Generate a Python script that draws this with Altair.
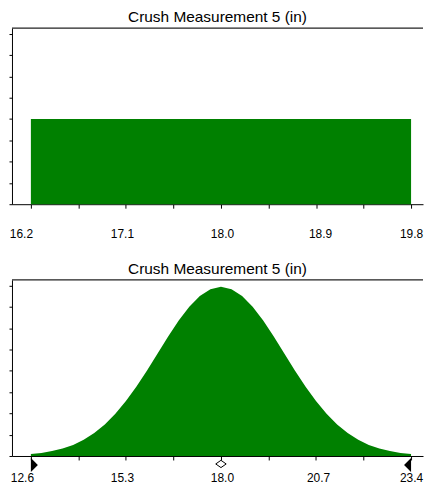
import altair as alt
import pandas as pd

TITLE = "Crush Measurement 5 (in)"
FONT = "Liberation Sans"
GREEN = "#008000"

# ---- top panel: uniform distribution ----
top_lo = [16.2]
top_hi = [19.8]
top_level = [4.0]
top_ticks = [16.2, 16.65, 17.1, 17.55, 18.0, 18.45, 18.9, 19.35, 19.8]
top_major = ["16.2", "17.1", "18.0", "18.9", "19.8"]
top_domain = [16.021, 19.913]

# ---- bottom panel: normal distribution ----
bot_x = [12.6, 12.9, 13.2, 13.5, 13.8, 14.1, 14.4, 14.7, 15.0, 15.3, 15.6, 15.9,
         16.2, 16.5, 16.8, 17.1, 17.4, 17.7, 18.0, 18.3, 18.6, 18.9, 19.2, 19.5,
         19.8, 20.1, 20.4, 20.7, 21.0, 21.3, 21.6, 21.9, 22.2, 22.5, 22.8, 23.1, 23.4]
bot_y = [0.09, 0.14, 0.23, 0.35, 0.52, 0.76, 1.08, 1.48, 1.98, 2.58, 3.27, 4.02,
         4.82, 5.62, 6.37, 7.02, 7.52, 7.84, 7.95, 7.84, 7.52, 7.02, 6.37, 5.62,
         4.82, 4.02, 3.27, 2.58, 1.98, 1.48, 1.08, 0.76, 0.52, 0.35, 0.23, 0.14, 0.09]
bot_ticks = [12.6, 13.95, 15.3, 16.65, 18.0, 19.35, 20.7, 22.05, 23.4]
bot_major = ["12.6", "15.3", "18.0", "20.7", "23.4"]
bot_domain = [12.063, 23.740]
bot_lo = [12.6]
bot_mean = [18.0]
bot_hi = [23.4]

y_ticks = [0, 1, 2, 3, 4, 5, 6, 7, 8]
y_domain = [0, 8.28]

W = 413
H = 177


def x_axis(ticks, major, cuts, offs, pad):
    lst = "[" + ",".join("'%s'" % m for m in major) + "]"
    t1, t2, t3, t4 = cuts
    o1, o2, o3, o4, o5 = offs
    return alt.Axis(
        values=ticks,
        title=None,
        grid=False,
        labelExpr="indexof(%s, format(datum.value, '.1f')) >= 0 ? format(datum.value, '.1f') : ''" % lst,
        labelFont=FONT,
        labelFontSize=12,
        labelColor="black",
        labelPadding=pad,
        labelFlush=False,
        labelOverlap=False,
        labelOffset={
            "condition": [
                {"test": "datum.value < %s" % t1, "value": o1},
                {"test": "datum.value < %s" % t2, "value": o2},
                {"test": "datum.value > %s" % t4, "value": o5},
                {"test": "datum.value > %s" % t3, "value": o4},
            ],
            "value": o3,
        },
        tickColor="black",
        tickSize=4,
        domainColor="black",
    )


y_axis = alt.Axis(values=y_ticks, title=None, grid=False, labels=False,
                  tickSize=3, tickColor="black", domainColor="black")
y_scale = alt.Scale(domain=y_domain, nice=False, zero=False)

top_rule = alt.Chart(pd.DataFrame({"a": [0]})).mark_rule(color="#222", strokeWidth=1.2).encode(
    x=alt.value(0), x2=alt.value(W), y=alt.value(0))

# top
top_df = pd.DataFrame({"lo": top_lo, "hi": top_hi, "lvl": top_level, "base": [0]})
top_x_scale = alt.Scale(domain=top_domain, nice=False, zero=False)
top_bar = alt.Chart(top_df).mark_rect(color=GREEN).encode(
    x=alt.X("lo:Q", scale=top_x_scale,
            axis=x_axis(top_ticks, top_major, (16.5, 17.5, 18.5, 19.5), (-10, -4, 1, 4, 0), 20)),
    x2="hi:Q",
    y=alt.Y("lvl:Q", scale=y_scale, axis=y_axis),
    y2="base:Q",
)
top = alt.layer(top_bar, top_rule).properties(width=W, height=H, title=TITLE)

# bottom
bot_df = pd.DataFrame({"x": bot_x, "y": bot_y})
bot_x_scale = alt.Scale(domain=bot_domain, nice=False, zero=False)
bot_area = alt.Chart(bot_df).mark_area(color=GREEN, interpolate="linear").encode(
    x=alt.X("x:Q", scale=bot_x_scale,
            axis=x_axis(bot_ticks, bot_major, (13.5, 16.0, 20.0, 22.5), (-9, -4, 1, 2, 0), 13)),
    y=alt.Y("y:Q", scale=y_scale, axis=y_axis),
)

tri_right = "M0,-1L1,0L0,1Z"
tri_left = "M0,-1L-1,0L0,1Z"
diamond = "M-1,0L0,-0.7L1,0L0,0.7Z"

lo_pt = alt.Chart(pd.DataFrame({"x": bot_lo})).mark_point(
    shape=tri_right, size=196, filled=True, color="black", opacity=1).encode(
    x=alt.X("x:Q", scale=bot_x_scale), y=alt.value(H + 9))
hi_pt = alt.Chart(pd.DataFrame({"x": bot_hi})).mark_point(
    shape=tri_left, size=196, filled=True, color="black", opacity=1).encode(
    x=alt.X("x:Q", scale=bot_x_scale), y=alt.value(H + 9))
mean_pt = alt.Chart(pd.DataFrame({"x": bot_mean})).mark_point(
    shape=diamond, size=110, filled=True, fill="white", stroke="black", strokeWidth=1, opacity=1).encode(
    x=alt.X("x:Q", scale=bot_x_scale), y=alt.value(H + 8))

bottom = alt.layer(bot_area, top_rule, lo_pt, hi_pt, mean_pt).properties(width=W, height=H, title=TITLE)

chart = alt.vconcat(top, bottom, spacing=22).properties(padding=0).configure_view(
    stroke=None
).configure_title(
    font=FONT, fontSize=15.5, fontWeight="normal", color="black", offset=2
)

chart.save("out.html", embed_options={"renderer": "svg", "actions": False})
